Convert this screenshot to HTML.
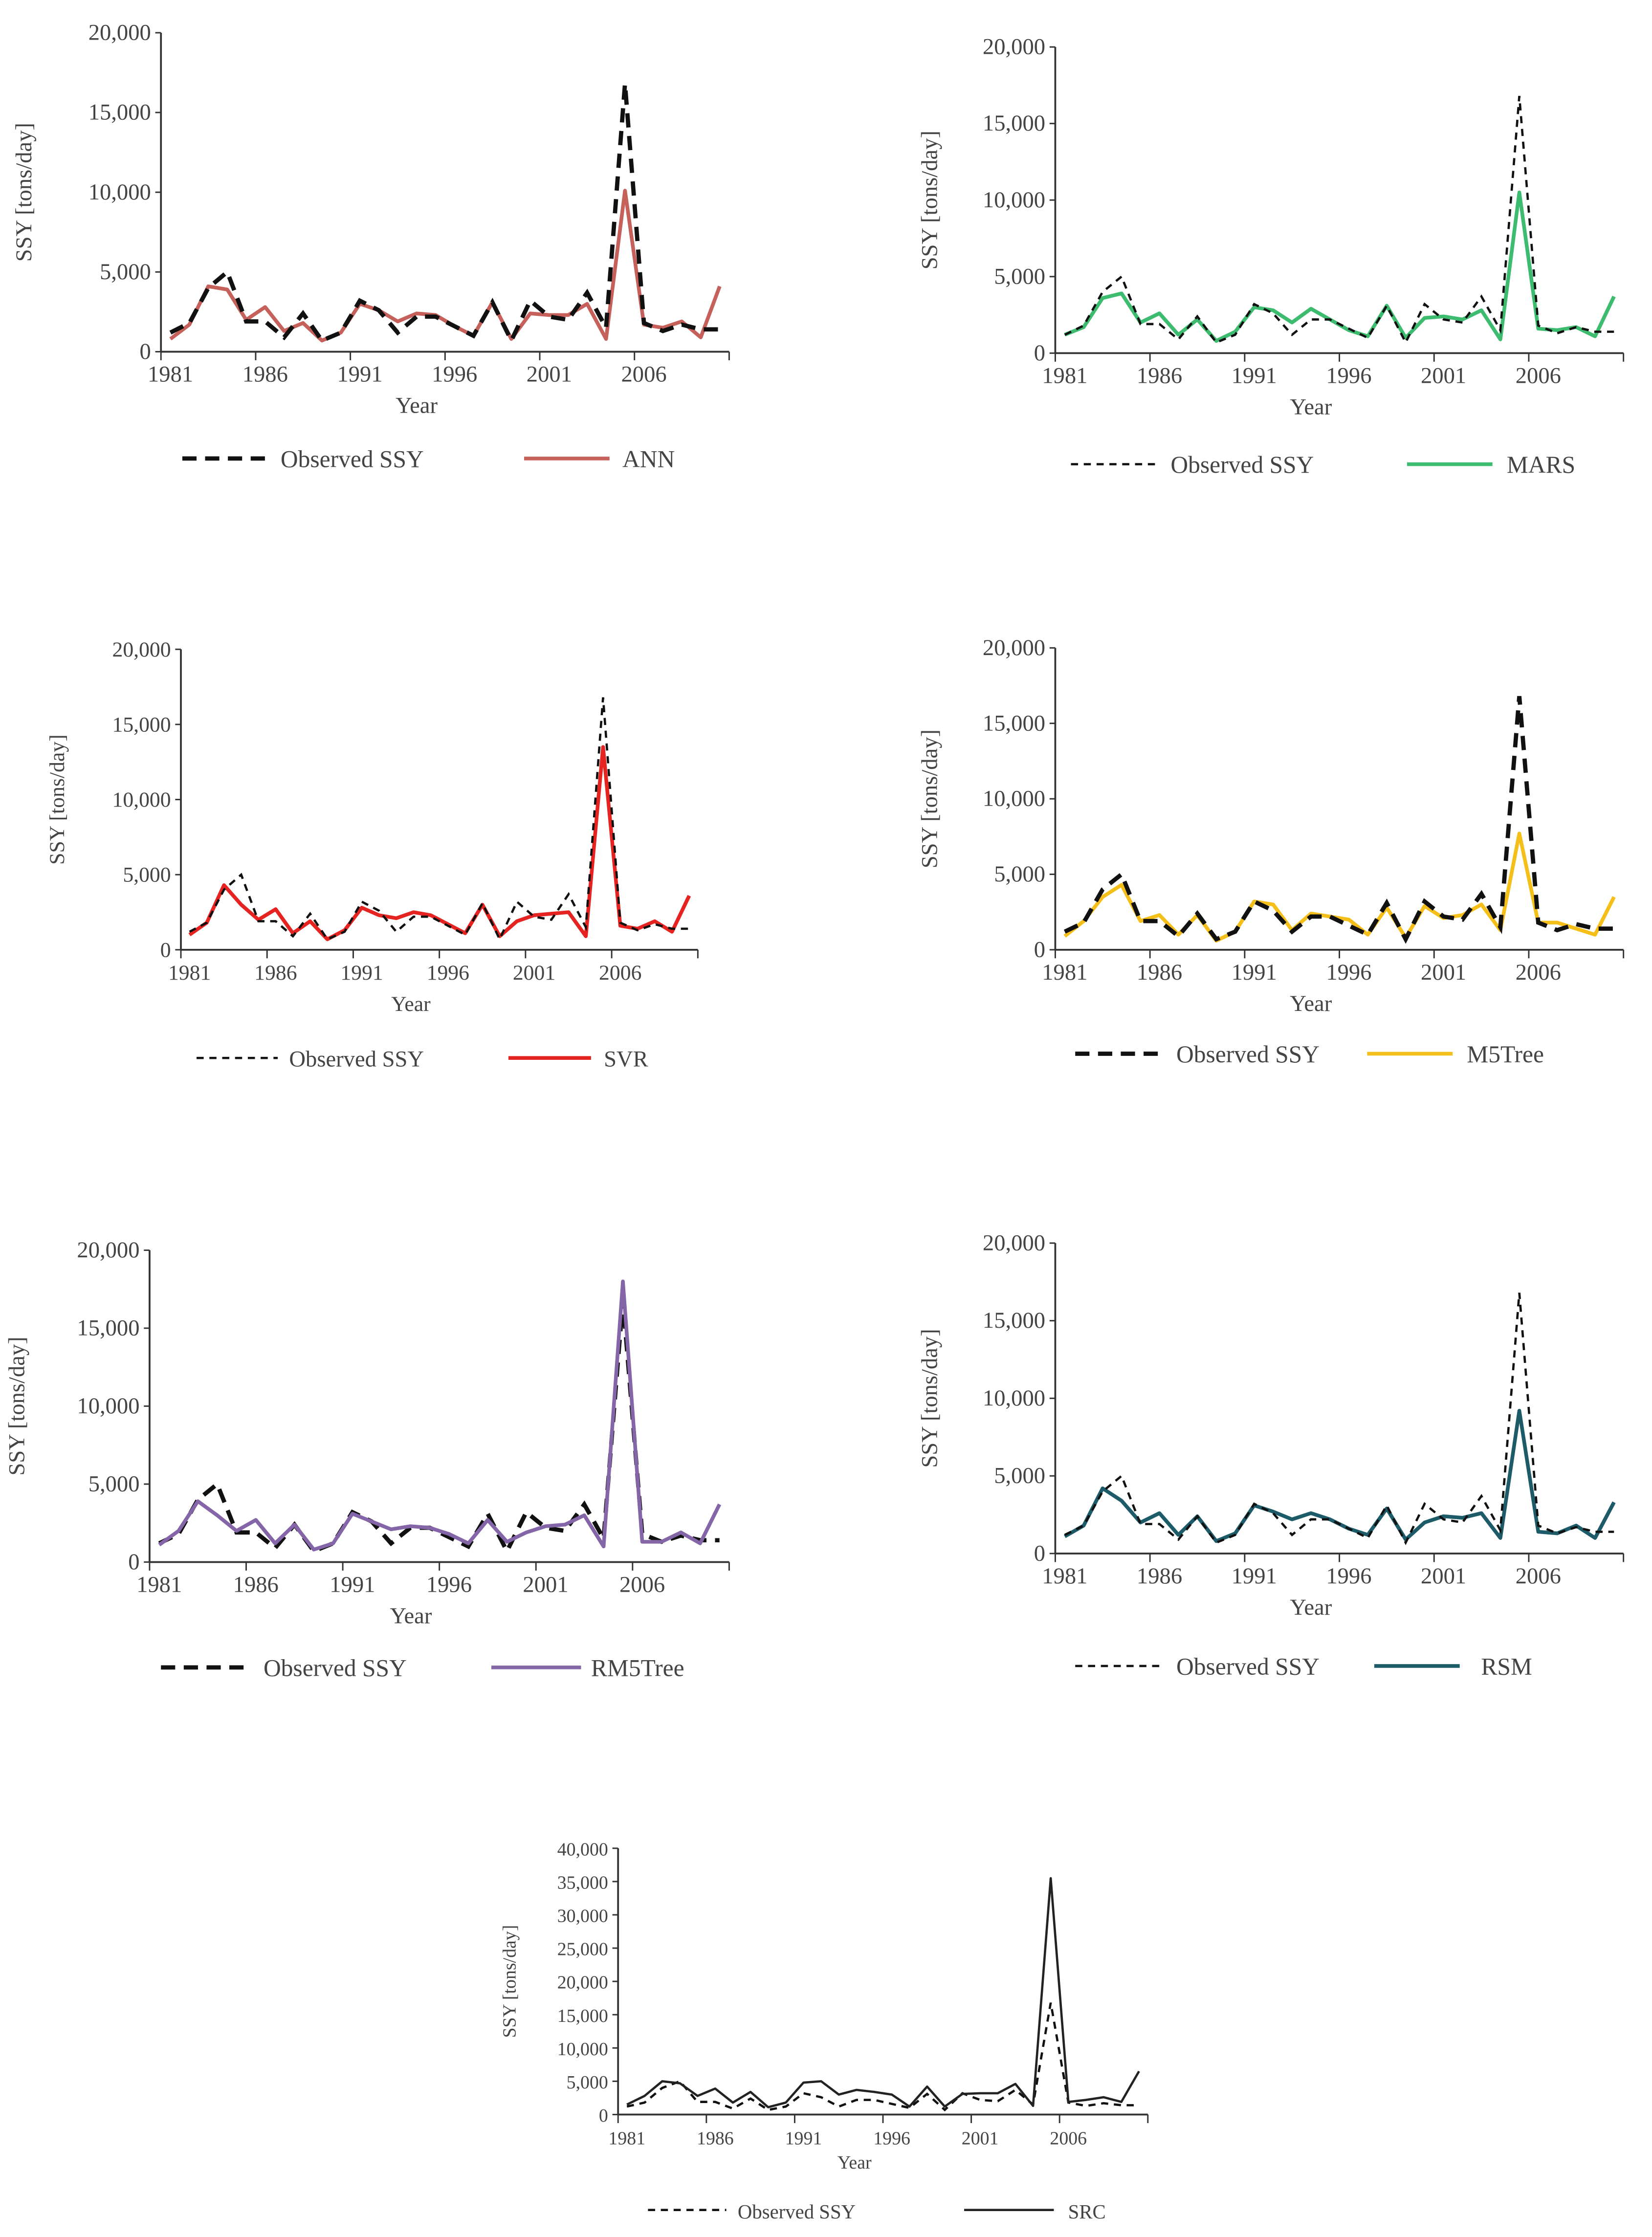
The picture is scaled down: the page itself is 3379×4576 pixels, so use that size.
<!DOCTYPE html>
<html><head><meta charset="utf-8"><style>
html,body{margin:0;padding:0;background:#fff;}
svg{display:block;}
text{font-family:"Liberation Serif",serif;fill:#444;}
</style></head><body>
<svg id="fig" width="3379" height="4576" viewBox="0 0 1160 1571" xmlns="http://www.w3.org/2000/svg"></svg>
<script>
const years = [];
for (let y = 1981; y <= 2010; y++) years.push(y);
const tickYears = [1981, 1986, 1991, 1996, 2001, 2006];
const observed = [1200,1800,4000,5000,1900,1900,900,2400,700,1200,3200,2600,1200,2200,2200,1600,1000,3100,700,3200,2200,2000,3700,1500,16800,1800,1300,1700,1400,1400];
const annVals = [800,1700,4100,3900,2000,2800,1300,1800,700,1200,3000,2600,1900,2400,2300,1600,1000,3100,800,2400,2300,2300,3000,800,10100,1700,1500,1900,900,4100];
const marsVals = [1200,1700,3600,3900,2000,2600,1200,2200,800,1400,3000,2800,2000,2900,2200,1500,1100,3100,1000,2300,2400,2200,2800,900,10500,1600,1500,1700,1100,3700];
const svrVals = [1000,1800,4300,3000,2000,2700,1100,1900,700,1300,2800,2300,2100,2500,2300,1700,1100,3000,900,1900,2300,2400,2500,900,13500,1600,1400,1900,1200,3600];
const m5Vals = [900,1900,3500,4300,1900,2300,1000,2300,600,1200,3200,3000,1300,2400,2200,2000,1000,2800,800,2900,2100,2300,3000,1300,7700,1800,1800,1400,1000,3500];
const rm5Vals = [1100,2000,3900,3000,2000,2700,1200,2400,800,1200,3100,2600,2100,2300,2200,1800,1200,2700,1300,1900,2300,2400,3000,1000,18000,1300,1300,1900,1200,3700];
const rsmVals = [1100,1800,4200,3400,2000,2600,1200,2400,800,1300,3100,2700,2200,2600,2200,1600,1200,2900,900,2000,2400,2300,2600,1000,9200,1400,1300,1800,1000,3300];
const srcVals = [1500,2800,5000,4700,2800,3900,1800,3400,1100,1800,4800,5000,3000,3700,3400,3000,1200,4200,1200,3100,3200,3200,4600,1300,35500,1900,2200,2600,1900,6500];
const yTicks20 = [0, 5000, 10000, 15000, 20000];
const yTicks40 = [0,5000,10000,15000,20000,25000,30000,35000,40000];

const charts = [
 {name:'ann', label:'ANN', color:'#c6605a', vals:annVals, x0:113,x1:512,yt:23,y0:247,ymax:20000,ticks:yTicks20,ylx:22,thick:true,lg:{y:322,d0:128,d1:190,t0:197,l0:368,l1:428,t1:437},fs:16},
 {name:'mars', label:'MARS', color:'#3dbb6e', vals:marsVals, x0:741,x1:1140,yt:33,y0:248,ymax:20000,ticks:yTicks20,ylx:658,thick:false,lg:{y:326,d0:752,d1:812,t0:822,l0:988,l1:1048,t1:1058},fs:16},
 {name:'svr', label:'SVR', color:'#e52421', vals:svrVals, x0:127,x1:490,yt:456,y0:667,ymax:20000,ticks:yTicks20,ylx:45,thick:false,lg:{y:743,d0:138,d1:195,t0:203,l0:357,l1:415,t1:424},fs:15},
 {name:'m5tree', label:'M5Tree', color:'#f5bf1a', vals:m5Vals, x0:741,x1:1140,yt:455,y0:667,ymax:20000,ticks:yTicks20,ylx:658,thick:true,lg:{y:740,d0:755,d1:815,t0:826,l0:960,l1:1020,t1:1030},fs:16},
 {name:'rm5tree', label:'RM5Tree', color:'#8466a8', vals:rm5Vals, x0:105,x1:512,yt:878,y0:1097,ymax:20000,ticks:yTicks20,ylx:17,thick:true,lg:{y:1171,d0:113,d1:175,t0:185,l0:345,l1:408,t1:415},fs:16},
 {name:'rsm', label:'RSM', color:'#1e5b68', vals:rsmVals, x0:741,x1:1140,yt:873,y0:1091,ymax:20000,ticks:yTicks20,ylx:658,thick:false,lg:{y:1170,d0:755,d1:815,t0:826,l0:965,l1:1025,t1:1040},fs:16},
 {name:'src', label:'SRC', color:'#222222', vals:srcVals, x0:434,x1:806,yt:1298,y0:1485,ymax:40000,ticks:yTicks40,ylx:362,thick:false,thin:true,lg:{y:1552,d0:455,d1:510,t0:518,l0:677,l1:740,t1:750},fs:13}
];

const NS = 'http://www.w3.org/2000/svg';
const svg = document.getElementById('fig');
function mk(tag, attrs, parent){
  const e = document.createElementNS(NS, tag);
  for (const k in attrs) e.setAttribute(k, attrs[k]);
  parent.appendChild(e);
  return e;
}
function fmt(v){ return v.toLocaleString('en-US'); }

charts.forEach(c => {
  const g = mk('g', {}, svg);
  
  
  const n = years.length;
  const w = (c.x1 - c.x0) / n;
  const xs = i => c.x0 + (i + 0.5) * w;
  const ys = v => c.y0 - v / c.ymax * (c.y0 - c.yt);
  const ya = mk('line', {x1:c.x0,y1:c.yt,x2:c.x0,y2:c.y0,stroke:'#333','stroke-width':1.3}, g);
  
  
  const xa = mk('line', {x1:c.x0,y1:c.y0,x2:c.x1,y2:c.y0,stroke:'#333','stroke-width':1.3}, g);
  
  
  c.ticks.forEach(t => {
    const yy = ys(t);
    mk('line', {x1:c.x0-4,y1:yy,x2:c.x0,y2:yy,stroke:'#333','stroke-width':1}, g);
    const tx = mk('text', {x:c.x0-7,y:yy+5,'text-anchor':'end','font-size':c.fs}, g);
    tx.textContent = fmt(t);
    
    
  });
  for (let i = 0; i <= n; i += 5) {
    const xx = c.x0 + i * w;
    mk('line', {x1:xx,y1:c.y0,x2:xx,y2:c.y0+6,stroke:'#333','stroke-width':1}, g);
  }
  tickYears.forEach(ty => {
    const i = years.indexOf(ty);
    const tx = mk('text', {x:xs(i),y:c.y0+21,'text-anchor':'middle','font-size':c.fs}, g);
    tx.textContent = ty;
    
    
  });
  const xl = mk('text', {x:(c.x0+c.x1)/2 - 20,y:c.y0+(c.fs>14?43:38),'text-anchor':'middle','font-size':c.fs}, g);
  xl.textContent = 'Year';
  
  
  const ym = (c.yt + c.y0) / 2;
  const yl = mk('text', {x:c.ylx,y:ym,'text-anchor':'middle','font-size':c.fs,transform:`rotate(-90 ${c.ylx} ${ym})`,'font-family':'"DejaVu Serif","Liberation Serif",serif'}, g);
  yl.textContent = 'SSY [tons/day]';
  
  
  const obsDash = c.thick ? {w:3, d:'10 6'} : {w:1.6, d:'5 4'};
  const mp = c.vals.map((v,i)=> (i?'L':'M') + xs(i).toFixed(2) + ',' + ys(v).toFixed(2)).join(' ');
  const op = observed.map((v,i)=> (i?'L':'M') + xs(i).toFixed(2) + ',' + ys(v).toFixed(2)).join(' ');
  const ol = mk('path', {d:op,fill:'none',stroke:'#111','stroke-width':obsDash.w,'stroke-dasharray':obsDash.d}, g);
  
  
  const ml = mk('path', {d:mp,fill:'none',stroke:c.color,'stroke-width':c.thin?1.6:2.6,'stroke-linejoin':'round'}, g);
  
  
  if (c.name !== 'src' && c.name !== 'rm5tree') g.appendChild(ol);
  const L = c.lg;
  const lg = mk('g', {}, g);
  
  
  mk('line', {x1:L.d0,y1:L.y,x2:L.d1,y2:L.y,stroke:'#111','stroke-width':obsDash.w,'stroke-dasharray':obsDash.d}, lg);
  const t1 = mk('text', {x:L.t0,y:L.y+6,'font-size':c.fs+1}, lg);
  t1.textContent = 'Observed SSY';
  
  
  mk('line', {x1:L.l0,y1:L.y,x2:L.l1,y2:L.y,stroke:c.color,'stroke-width':c.thin?1.6:2.6}, lg);
  const t2 = mk('text', {x:L.t1,y:L.y+6,'font-size':c.fs+1}, lg);
  t2.textContent = c.label;
  
  
});
</script>
</body></html>
